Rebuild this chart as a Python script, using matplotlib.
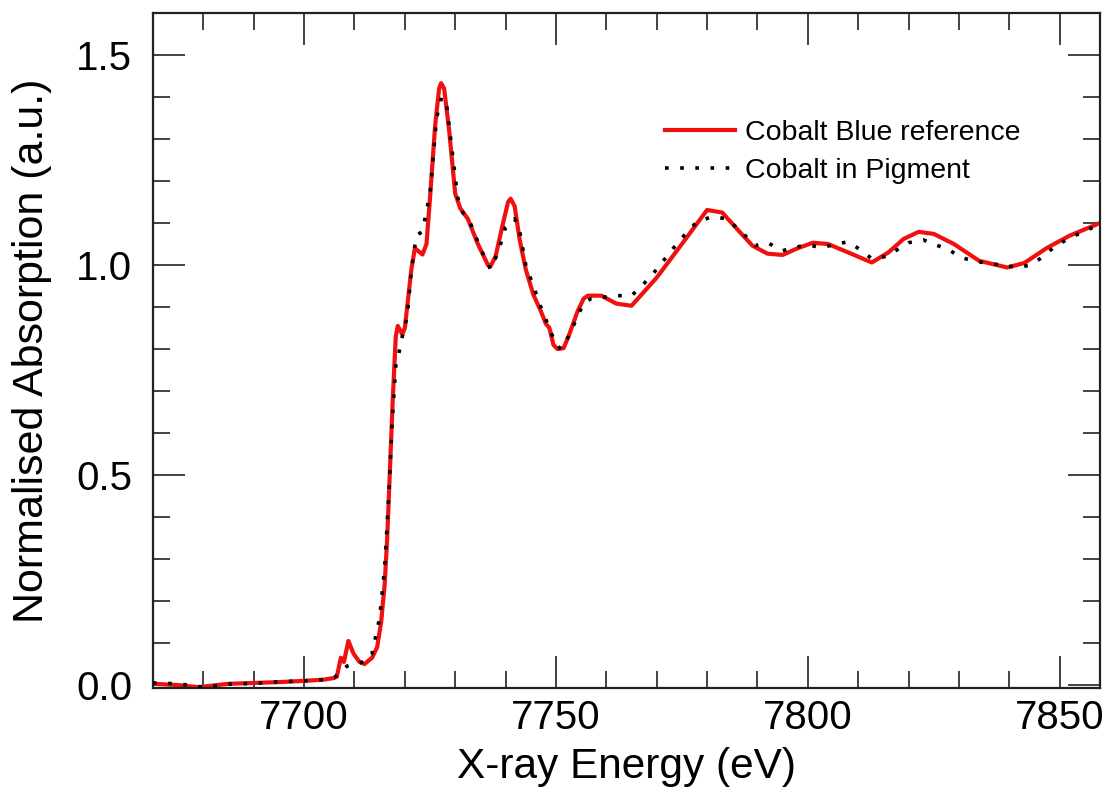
import numpy as np
import matplotlib
matplotlib.use("Agg")
import matplotlib.pyplot as plt
from matplotlib.ticker import MultipleLocator

# Cobalt Blue reference (energy in eV, normalised absorption)
ref_energy = [7670, 7675, 7679, 7685, 7690, 7695, 7700, 7704, 7706, 7706.5, 7707.3, 7707.9,
              7708.8, 7709.8, 7711, 7712, 7713.5, 7714.5, 7715.3, 7716, 7716.5, 7717, 7717.6,
              7718.2, 7718.6, 7719.5, 7720, 7721.3, 7722, 7723.5, 7724.3, 7725, 7726, 7726.8,
              7727.2, 7727.8, 7728.8, 7730, 7731, 7732.5, 7734.5, 7736.5, 7737, 7738, 7739.5,
              7740.5, 7741, 7741.8, 7742.8, 7744, 7745.5, 7747, 7748, 7748.7, 7749.5, 7750.3,
              7751.5, 7752.5, 7754.3, 7755.5, 7756.3, 7759, 7762, 7765, 7770, 7775, 7780, 7783,
              7786, 7789, 7792, 7795, 7798, 7801, 7804, 7808, 7812.7, 7816, 7819, 7822, 7825,
              7829, 7834, 7839.6, 7843, 7847.5, 7852, 7858]
ref_abs = [0.003, 0.0, -0.005, 0.003, 0.005, 0.007, 0.01, 0.013, 0.017, 0.02, 0.065, 0.055,
           0.105, 0.075, 0.055, 0.05, 0.065, 0.09, 0.15, 0.24, 0.35, 0.5, 0.68,
           0.83, 0.855, 0.835, 0.85, 0.99, 1.04, 1.025, 1.05, 1.16, 1.33, 1.42,
           1.433, 1.42, 1.32, 1.17, 1.135, 1.11, 1.05, 1.0, 0.997, 1.02, 1.10,
           1.15, 1.158, 1.14, 1.06, 0.99, 0.93, 0.89, 0.86, 0.85, 0.81, 0.80,
           0.802, 0.83, 0.89, 0.92, 0.927, 0.927, 0.908, 0.903, 0.97, 1.05, 1.131, 1.125,
           1.085, 1.046, 1.027, 1.024, 1.04, 1.053, 1.05, 1.03, 1.006, 1.03, 1.062, 1.079, 1.074,
           1.05, 1.01, 0.994, 1.005, 1.041, 1.07, 1.10]

# Cobalt in pigment
pig_energy = [7670, 7675, 7680, 7685, 7690, 7695, 7700, 7704, 7706, 7707.2, 7708.5, 7710.5,
              7712, 7713.5, 7715, 7716, 7716.8, 7717.5, 7718.2, 7719, 7719.5, 7720.5, 7721.3,
              7722.3, 7723.5, 7725, 7726.3, 7727.3, 7728.3, 7729.5, 7730.5, 7731.5, 7733, 7735,
              7737, 7738.5, 7740, 7741.8, 7742.8, 7744, 7745.5, 7747, 7748.5, 7750, 7751,
              7752.5, 7754, 7755.5, 7757, 7762, 7765, 7767, 7769, 7774.5, 7778, 7781, 7784,
              7788, 7789.5, 7792, 7795, 7797, 7800, 7802.8, 7805.4, 7808, 7810.5, 7812.7,
              7815.3, 7817.7, 7820, 7822.9, 7825.4, 7828, 7830.6, 7833, 7836, 7838.8, 7841.5,
              7844.3, 7846.7, 7848.7, 7851.3, 7853.7, 7856.5, 7858]
pig_abs = [0.005, 0.003, -0.005, 0.002, 0.004, 0.008, 0.01, 0.013, 0.018, 0.03, 0.045, 0.052,
           0.055, 0.075, 0.16, 0.28, 0.45, 0.63, 0.76, 0.8, 0.83, 0.88, 0.99,
           1.07, 1.08, 1.17, 1.35, 1.40, 1.38, 1.26, 1.16, 1.125, 1.10, 1.04,
           0.99, 1.03, 1.09, 1.11, 1.08, 1.00, 0.95, 0.90, 0.855, 0.81, 0.80,
           0.83, 0.87, 0.91, 0.92, 0.927, 0.927, 0.95, 0.975, 1.058, 1.103, 1.115, 1.11,
           1.065, 1.046, 1.053, 1.034, 1.041, 1.048, 1.041, 1.05, 1.055, 1.036, 1.015,
           1.02, 1.036, 1.053, 1.06, 1.048, 1.036, 1.017, 1.01, 1.003, 1.0, 0.994,
           1.0, 1.02, 1.041, 1.06, 1.074, 1.089, 1.095]

plt.rcParams['font.family'] = ['Liberation Sans', 'DejaVu Sans']

fig = plt.figure(figsize=(11.1, 7.87), dpi=100)
ax = fig.add_axes([0.1378, 0.1258, 0.8532, 0.8577])

ax.plot(ref_energy, ref_abs, color='#f01010', lw=3.0, label='Cobalt Blue reference', zorder=2)
ax.plot(pig_energy, pig_abs, color='black', lw=2.6, linestyle=(0, (1, 3.2)),
        label='Cobalt in Pigment', zorder=3)

ax.set_xlim(7670, 7858)
ax.set_ylim(-0.007, 1.6)

ax.xaxis.set_major_locator(MultipleLocator(50))
ax.xaxis.set_minor_locator(MultipleLocator(10))
ax.yaxis.set_major_locator(MultipleLocator(0.5))
ax.yaxis.set_minor_locator(MultipleLocator(0.1))
ax.yaxis.set_major_formatter(matplotlib.ticker.FormatStrFormatter('%.1f'))

ax.tick_params(which='both', direction='in', top=True, right=True, width=1.2, color='#222222')
ax.tick_params(which='major', length=23, labelsize=29)
ax.tick_params(axis='x', which='major', pad=8)
ax.tick_params(axis='y', which='major', pad=15)
ax.tick_params(which='minor', length=12)
for s in ax.spines.values():
    s.set_linewidth(1.6)
    s.set_color('#222222')

ax.set_xlabel('X-ray Energy (eV)', fontsize=30.5, labelpad=7)
ax.set_ylabel('Normalised Absorption (a.u.)', fontsize=31, labelpad=17)

ax.legend(loc='upper left', bbox_to_anchor=(0.5286, 0.859), frameon=False, fontsize=20.5,
          handlelength=2.45, handletextpad=0.35, labelspacing=0.45, borderaxespad=0)

fig.savefig('out.png', dpi=100)
